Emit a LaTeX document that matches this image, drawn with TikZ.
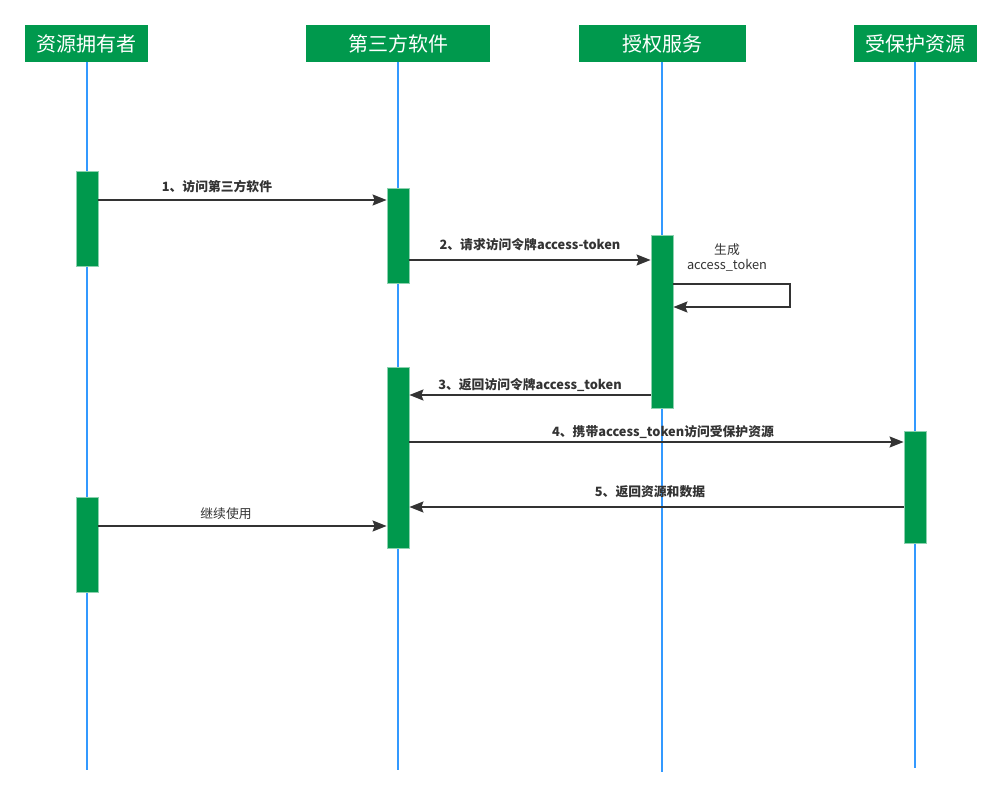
\documentclass[tikz,border=0pt]{standalone}
\usepackage{fontspec}
\setmainfont{Noto Sans CJK SC}
\usetikzlibrary{arrows.meta}
\definecolor{hdr}{RGB}{0,153,77}
\definecolor{life}{RGB}{51,153,255}
\definecolor{ink}{RGB}{51,51,51}
\begin{document}
\begin{tikzpicture}[x=1pt,y=-1pt,
  header/.style={fill=hdr, text=white, font=\fontsize{20}{23}\selectfont, minimum height=37pt, inner sep=0pt},
  lifeline/.style={draw=life, line width=2pt},
  actbar/.style={fill=hdr, draw=hdr!45, line width=0.8pt, minimum width=22pt, inner sep=0pt},
  msg/.style={draw=ink, line width=1.6pt, -{Stealth[length=14pt,width=11pt,inset=2pt]}},
  lbl/.style={text=ink, font=\fontsize{12.8}{15}\selectfont\bfseries, inner sep=0pt, align=center},
  lbln/.style={text=ink, font=\fontsize{12.8}{15}\selectfont, inner sep=0pt, align=center}]
\useasboundingbox (0,0) rectangle (1002,797);
% headers
\node[header, minimum width=123pt] (h1) at (86.5,43.5) {资源拥有者};
\node[header, minimum width=184pt] (h2) at (398,43.5) {第三方软件};
\node[header, minimum width=167pt] (h3) at (662.5,43.5) {授权服务};
\node[header, minimum width=123pt] (h4) at (915.5,43.5) {受保护资源};
% lifelines
\coordinate (e1) at (87,770);
\coordinate (e2) at (398,770);
\coordinate (e3) at (662,772);
\coordinate (e4) at (915,768);
\draw[lifeline] (e1 |- h1.south) -- (e1);
\draw[lifeline] (e2 |- h2.south) -- (e2);
\draw[lifeline] (e3 |- h3.south) -- (e3);
\draw[lifeline] (e4 |- h4.south) -- (e4);
% activation bars
\node[actbar, minimum height=95pt] (a1) at (87,218.5) {};
\node[actbar, minimum height=95pt] (a2) at (87,544.5) {};
\node[actbar, minimum height=95pt] (b1) at (398,235.5) {};
\node[actbar, minimum height=181pt] (b2) at (398,457.5) {};
\node[actbar, minimum height=173pt] (c1) at (662,321.5) {};
\node[actbar, minimum height=112pt] (d1) at (915,487) {};
% message levels
\coordinate (y1) at (0,200);
\coordinate (y2) at (0,260);
\coordinate (ys1) at (0,284);
\coordinate (ys2) at (0,307);
\coordinate (yr) at (790,0);
\coordinate (y3) at (0,395);
\coordinate (y4) at (0,442);
\coordinate (y5) at (0,507);
\coordinate (y6) at (0,526);
% messages
\draw[msg] (a1.east |- y1) -- (b1.west |- y1);
\node[lbl] (l1) at (217,187) {1、访问第三方软件};
\draw[msg] (b1.east |- y2) -- (c1.west |- y2);
\node[lbl] (l2) at (530,245) {2、请求访问令牌access-token};
\draw[msg] (c1.east |- ys1) -- (yr |- ys1) -- (yr |- ys2) -- (c1.east |- ys2);
\node[lbln] (ls) at (727,258) {生成\\access\_token};
\draw[msg] (c1.west |- y3) -- (b2.east |- y3);
\node[lbl] (l3) at (530,385) {3、返回访问令牌access\_token};
\draw[msg] (b2.east |- y4) -- (d1.west |- y4);
\node[lbl] (l4) at (663,432) {4、携带access\_token访问受保护资源};
\draw[msg] (d1.west |- y5) -- (b2.east |- y5);
\node[lbl] (l5) at (650,492) {5、返回资源和数据};
\draw[msg] (a2.east |- y6) -- (b2.west |- y6);
\node[lbln] (l6) at (226,514) {继续使用};
\end{tikzpicture}
\end{document}
